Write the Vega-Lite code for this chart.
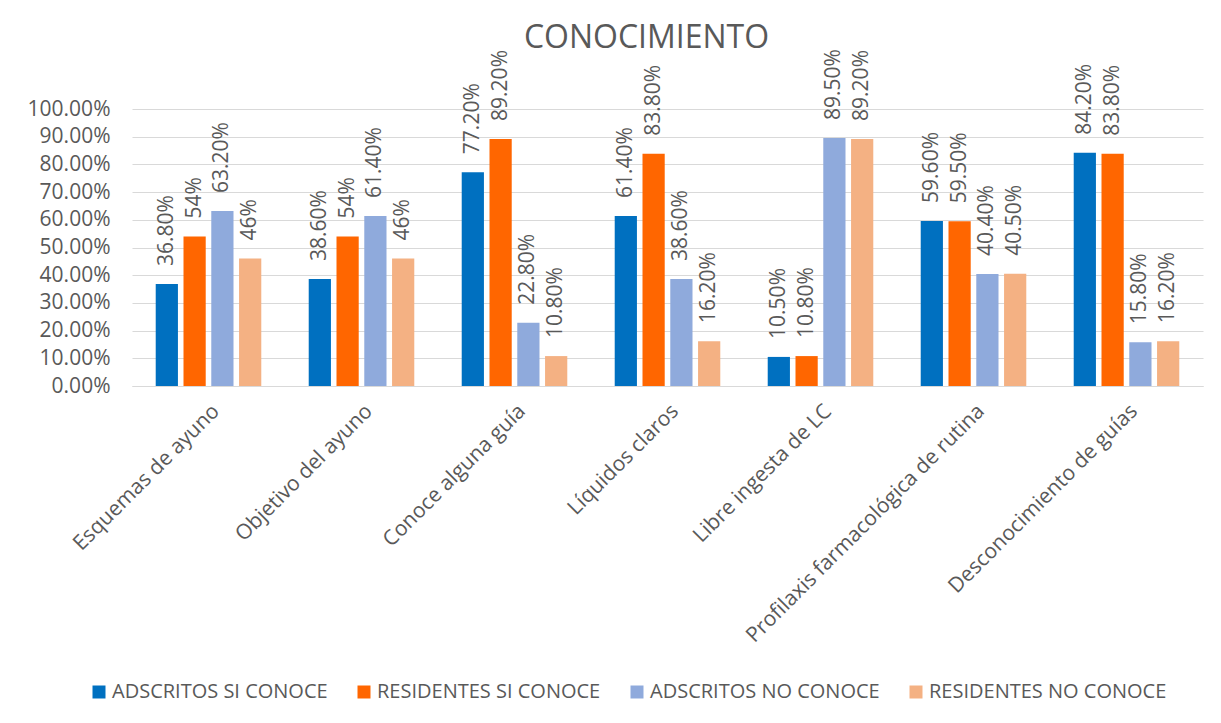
{
  "$schema": "https://vega.github.io/schema/vega-lite/v6.json",
  "autosize": {"type": "none"},
  "width": 1071,
  "height": 277,
  "padding": {"left": 132, "top": 109, "right": 18, "bottom": 337},
  "background": "white",
  "config": {
    "font": "Open Sans",
    "view": {"stroke": null}
  },
  "title": {
    "text": "CONOCIMIENTO",
    "fontSize": 32,
    "font": "Open Sans",
    "fontWeight": "normal",
    "color": "#595959",
    "anchor": "middle",
    "dx": -21,
    "dy": 10
  },
  "data": {
    "values": [
      {"categoria": "Esquemas de ayuno", "serie": "ADSCRITOS SI CONOCE", "valor": 0.368, "label": "36.80%"},
      {"categoria": "Esquemas de ayuno", "serie": "RESIDENTES SI CONOCE", "valor": 0.54, "label": "54%"},
      {"categoria": "Esquemas de ayuno", "serie": "ADSCRITOS NO CONOCE", "valor": 0.632, "label": "63.20%"},
      {"categoria": "Esquemas de ayuno", "serie": "RESIDENTES NO CONOCE", "valor": 0.46, "label": "46%"},
      {"categoria": "Objetivo del ayuno", "serie": "ADSCRITOS SI CONOCE", "valor": 0.386, "label": "38.60%"},
      {"categoria": "Objetivo del ayuno", "serie": "RESIDENTES SI CONOCE", "valor": 0.54, "label": "54%"},
      {"categoria": "Objetivo del ayuno", "serie": "ADSCRITOS NO CONOCE", "valor": 0.614, "label": "61.40%"},
      {"categoria": "Objetivo del ayuno", "serie": "RESIDENTES NO CONOCE", "valor": 0.46, "label": "46%"},
      {"categoria": "Conoce alguna guía", "serie": "ADSCRITOS SI CONOCE", "valor": 0.772, "label": "77.20%"},
      {"categoria": "Conoce alguna guía", "serie": "RESIDENTES SI CONOCE", "valor": 0.892, "label": "89.20%"},
      {"categoria": "Conoce alguna guía", "serie": "ADSCRITOS NO CONOCE", "valor": 0.228, "label": "22.80%"},
      {"categoria": "Conoce alguna guía", "serie": "RESIDENTES NO CONOCE", "valor": 0.108, "label": "10.80%"},
      {"categoria": "Líquidos claros", "serie": "ADSCRITOS SI CONOCE", "valor": 0.614, "label": "61.40%"},
      {"categoria": "Líquidos claros", "serie": "RESIDENTES SI CONOCE", "valor": 0.838, "label": "83.80%"},
      {"categoria": "Líquidos claros", "serie": "ADSCRITOS NO CONOCE", "valor": 0.386, "label": "38.60%"},
      {"categoria": "Líquidos claros", "serie": "RESIDENTES NO CONOCE", "valor": 0.162, "label": "16.20%"},
      {"categoria": "Libre ingesta de LC", "serie": "ADSCRITOS SI CONOCE", "valor": 0.105, "label": "10.50%"},
      {"categoria": "Libre ingesta de LC", "serie": "RESIDENTES SI CONOCE", "valor": 0.108, "label": "10.80%"},
      {"categoria": "Libre ingesta de LC", "serie": "ADSCRITOS NO CONOCE", "valor": 0.895, "label": "89.50%"},
      {"categoria": "Libre ingesta de LC", "serie": "RESIDENTES NO CONOCE", "valor": 0.892, "label": "89.20%"},
      {"categoria": "Profilaxis farmacológica de rutina", "serie": "ADSCRITOS SI CONOCE", "valor": 0.596, "label": "59.60%"},
      {"categoria": "Profilaxis farmacológica de rutina", "serie": "RESIDENTES SI CONOCE", "valor": 0.595, "label": "59.50%"},
      {"categoria": "Profilaxis farmacológica de rutina", "serie": "ADSCRITOS NO CONOCE", "valor": 0.404, "label": "40.40%"},
      {"categoria": "Profilaxis farmacológica de rutina", "serie": "RESIDENTES NO CONOCE", "valor": 0.405, "label": "40.50%"},
      {"categoria": "Desconocimiento de guías", "serie": "ADSCRITOS SI CONOCE", "valor": 0.842, "label": "84.20%"},
      {"categoria": "Desconocimiento de guías", "serie": "RESIDENTES SI CONOCE", "valor": 0.838, "label": "83.80%"},
      {"categoria": "Desconocimiento de guías", "serie": "ADSCRITOS NO CONOCE", "valor": 0.158, "label": "15.80%"},
      {"categoria": "Desconocimiento de guías", "serie": "RESIDENTES NO CONOCE", "valor": 0.162, "label": "16.20%"}
    ]
  },
  "encoding": {
    "x": {
      "field": "categoria",
      "type": "nominal",
      "sort": null,
      "scale": {"paddingInner": 0.31, "paddingOuter": 0.155},
      "axis": {
        "title": null,
        "labelAngle": -45,
        "labelFontSize": 21,
        "labelColor": "#595959",
        "labelFont": "Open Sans",
        "labelLimit": 600,
        "labelPadding": 14,
        "ticks": false,
        "domainColor": "#d9d9d9",
        "domainWidth": 1
      }
    },
    "xOffset": {
      "field": "serie",
      "type": "nominal",
      "sort": ["ADSCRITOS SI CONOCE", "RESIDENTES SI CONOCE", "ADSCRITOS NO CONOCE", "RESIDENTES NO CONOCE"],
      "scale": {"paddingInner": 0.2, "paddingOuter": 0}
    },
    "y": {
      "field": "valor",
      "type": "quantitative",
      "scale": {"domain": [0, 1]},
      "axis": {
        "title": null,
        "format": ".2%",
        "values": [0, 0.1, 0.2, 0.3, 0.4, 0.5, 0.6, 0.7, 0.8, 0.9, 1.0],
        "labelFontSize": 21,
        "labelColor": "#595959",
        "labelFont": "Open Sans",
        "labelPadding": 22,
        "ticks": false,
        "domain": false,
        "gridColor": "#d9d9d9",
        "gridWidth": 1
      }
    }
  },
  "layer": [
    {
      "mark": {"type": "bar"},
      "encoding": {
        "color": {
          "field": "serie",
          "type": "nominal",
          "sort": ["ADSCRITOS SI CONOCE", "RESIDENTES SI CONOCE", "ADSCRITOS NO CONOCE", "RESIDENTES NO CONOCE"],
          "scale": {
            "domain": ["ADSCRITOS SI CONOCE", "RESIDENTES SI CONOCE", "ADSCRITOS NO CONOCE", "RESIDENTES NO CONOCE"],
            "range": ["#0070C0", "#FF6600", "#8FAADC", "#F4B183"]
          },
          "legend": {
            "title": null,
            "orient": "none",
            "direction": "horizontal",
            "legendX": -43,
            "legendY": 573,
            "symbolType": "square",
            "symbolSize": 169,
            "symbolStrokeWidth": 0,
            "labelFontSize": 20,
            "labelColor": "#595959",
            "labelFont": "Open Sans",
            "labelLimit": 0,
            "labelOffset": 3,
            "columnPadding": 26
          }
        }
      }
    },
    {
      "mark": {
        "type": "text",
        "angle": 270,
        "align": "left",
        "baseline": "middle",
        "dx": 18,
        "fontSize": 21,
        "color": "#595959",
        "font": "Open Sans"
      },
      "encoding": {"text": {"field": "label"}}
    }
  ]
}
